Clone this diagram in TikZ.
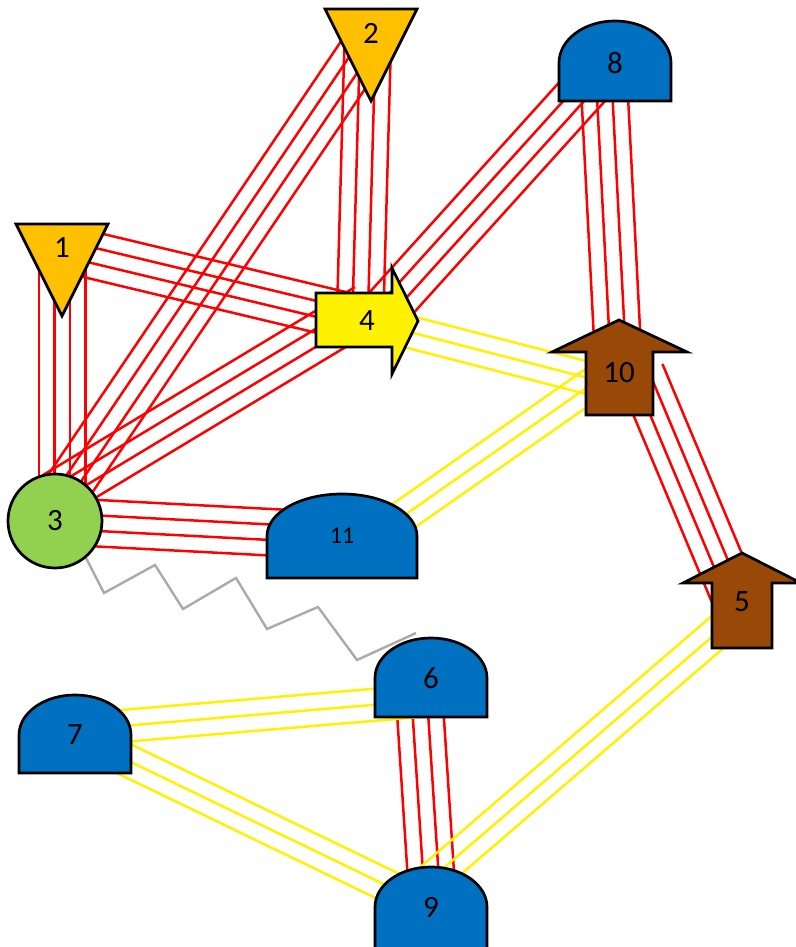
\documentclass[tikz,border=0pt]{standalone}
\usepackage{fontspec}
\setmainfont{Carlito}
\usetikzlibrary{calc}

\definecolor{gold}{HTML}{FFC000}
\definecolor{leaf}{HTML}{92D050}
\definecolor{domeblue}{HTML}{0070C0}
\definecolor{rust}{HTML}{984807}
\definecolor{linkgray}{HTML}{AAAAAA}

\pgfdeclarelayer{wires}
\pgfdeclarelayer{bodies}
\pgfsetlayers{wires,bodies,main}

\tikzset{
  lbl/.style={font=\fontsize{31}{36}\selectfont, inner sep=0pt},
  body/.style={draw=black, line width=2.7pt, line join=miter},
  redwire/.style={red, line width=2.5pt},
  yelwire/.style={yellow, line width=2.5pt},
  radio/.style={linkgray, line width=2.4pt, line join=miter},
}

% bundles of parallel wires between two points
\newcommand\redbundle[2]{\foreach \sh in {-23.25,-7.75,7.75,23.25}
  {\draw[redwire] ($#1!\sh pt!90:#2$) -- ($#2!\sh pt!-90:#1$);}}
\newcommand\yelbundle[2]{\foreach \sh in {-16,0,16}
  {\draw[yelwire] ($#1!\sh pt!90:#2$) -- ($#2!\sh pt!-90:#1$);}}

% outlines drawn round the label nodes
\newcommand\trishape[1]{\filldraw[body, fill=gold, shift={(#1.center)}]
  (-46,24) -- (46,24) -- (0,-68) -- cycle;}
\newcommand\domeshape[4]{\filldraw[body, fill=domeblue, shift={(#1.center)}]
  (-#2,-#3) -- (-#2,0) arc[start angle=180, end angle=0, x radius=#2, y radius=#4]
  -- (#2,-#3) -- cycle;}

\begin{document}
\begin{tikzpicture}[x=1pt,y=1pt]
  \useasboundingbox (0,0) rectangle (795,947);

  \node[lbl] (n1) at (62,699) {1};
  \node[lbl] (n2) at (371,914) {2};
  \node[lbl, circle, body, fill=leaf, minimum size=94] (n3) at (55,426) {3};
  \node[lbl] (n4) at (367,626) {4};
  \node[lbl] (n5) at (742,345) {5};
  \node[lbl] (n6) at (431,269) {6};
  \node[lbl] (n7) at (75,212) {7};
  \node[lbl] (n8) at (615,884) {8};
  \node[lbl] (n9) at (431,40) {9};
  \node[lbl] (n10) at (619,574) {10};
  \node[lbl, font=\fontsize{24}{28}\selectfont] (n11) at (342,411) {11};
  \coordinate (radioend) at (416,314);

  \begin{pgfonlayer}{bodies}
    \trishape{n1}
    \trishape{n2}
    \filldraw[body, fill=yellow, shift={(n4.center)}] (-51,28) -- (25,28) -- (25,53)
      -- (51,0) -- (25,-53) -- (25,-26) -- (-51,-26) -- cycle;
    \filldraw[body, fill=rust, shift={(n10.center)}] (-33,-42) -- (-33,21) -- (-67,21)
      -- (0,53) -- (68,21) -- (34,21) -- (34,-42) -- cycle;
    \filldraw[body, fill=rust, shift={(n5.center)}] (-30,-46) -- (-30,19) -- (-59,19)
      -- (0,49) -- (59,19) -- (30,19) -- (30,-46) -- cycle;
    \domeshape{n6}{56}{39}{40}
    \domeshape{n7}{56}{38}{40}
    \domeshape{n8}{56}{38}{42}
    \domeshape{n9}{56}{42}{40}
    \domeshape{n11}{75}{42}{42}
  \end{pgfonlayer}

  \begin{pgfonlayer}{wires}
    \fill[white] (0,0) rectangle (795,947);
    \redbundle{(n1)}{([xshift=7]n3.center)}
    \redbundle{(n1)}{(n4)}
    \redbundle{([shift={(-1,-7)}]n2.center)}{([xshift=-10]n3.center)}
    \redbundle{([xshift=-3]n2.center)}{([xshift=-7]n4.center)}
    \redbundle{([yshift=26]n3.center)}{([yshift=14]n4.center)}
    \redbundle{(n3)}{(n11)}
    \redbundle{([xshift=8]n4.center)}{([xshift=-7]n8.center)}
    \redbundle{([xshift=-12]n8.center)}{(n10)}
    \redbundle{([xshift=22]n10.center)}{([xshift=-5]n5.center)}
    \redbundle{([xshift=-13]n6.center)}{([xshift=2]n9.center)}
    \yelbundle{(n4)}{([yshift=-13]n10.center)}
    \yelbundle{([yshift=-23]n11.center)}{([yshift=8]n10.center)}
    \yelbundle{([yshift=5]n7.center)}{([yshift=-22]n6.center)}
    \yelbundle{(n7)}{(n9)}
    \yelbundle{([yshift=-9]n5.center)}{([yshift=28]n9.center)}
    \draw[radio] (n3.-50) -- (104,354) -- (155,382) -- (183,338) -- (236,369)
      -- (267,318) -- (318,340) -- (357,287) -- (radioend);
  \end{pgfonlayer}
\end{tikzpicture}
\end{document}
